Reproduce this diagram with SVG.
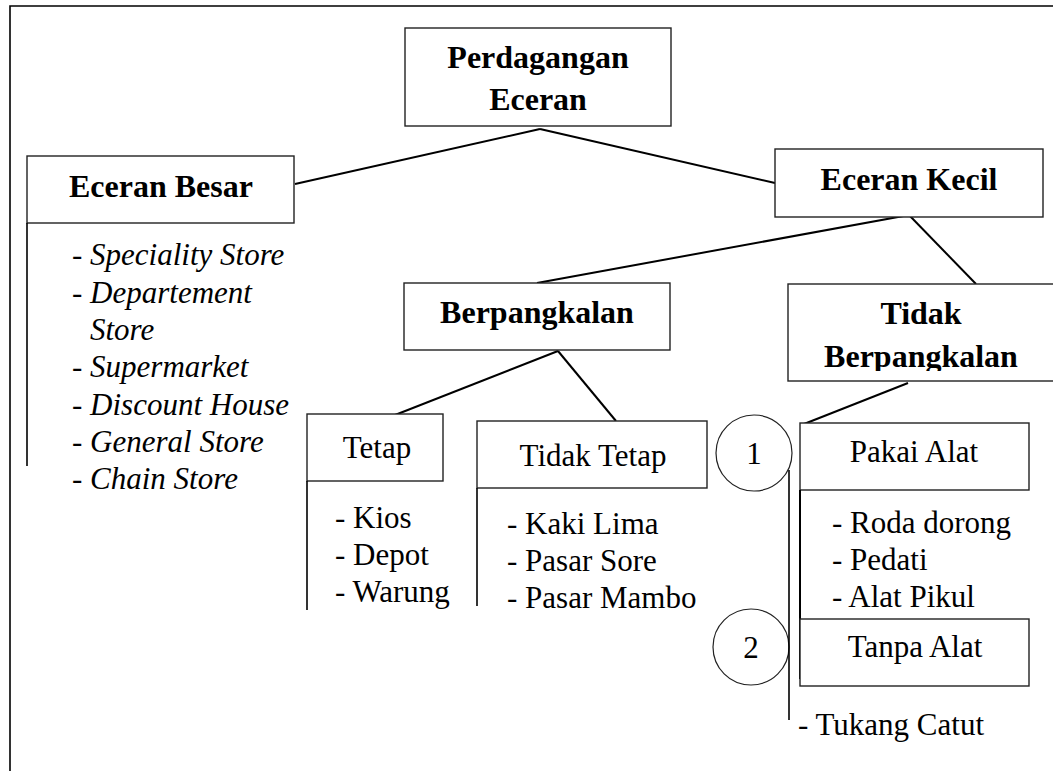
<svg xmlns="http://www.w3.org/2000/svg" width="1053" height="771" viewBox="0 0 1053 771">
  <style>
    .box { fill: #fff; stroke: #222; stroke-width: 1.4; }
    .edge { stroke: #000; stroke-width: 2; fill: none; }
    .rule { stroke: #000; stroke-width: 1.6; fill: none; }
    .ring { fill: #fff; stroke: #222; stroke-width: 1.2; }
    text { font-family: "Liberation Serif", "Times New Roman", serif; fill: #000; }
    .h { font-size: 32px; font-weight: bold; text-anchor: middle; }
    .n { font-size: 31px; }
    .c { text-anchor: middle; }
    .i { font-style: italic; }
  </style>
  <defs>
    <clipPath id="tbClip"><rect x="788" y="284" width="265" height="87"/></clipPath>
  </defs>
  <rect width="1053" height="771" fill="#fff"/>
  <!-- page frame -->
  <path class="rule" d="M10,780 V6 H1060"/>

  <g id="connectors">
    <line class="edge" x1="540" y1="129" x2="295" y2="184"/>
    <line class="edge" x1="540" y1="129" x2="775" y2="183"/>
    <line class="edge" x1="909" y1="215" x2="537" y2="283"/>
    <line class="edge" x1="909" y1="215" x2="976" y2="284"/>
    <line class="edge" x1="558" y1="351" x2="395" y2="415"/>
    <line class="edge" x1="558" y1="351" x2="616" y2="421"/>
    <line class="edge" x1="908" y1="383" x2="804" y2="424"/>
  </g>

  <g id="perdagangan-eceran">
    <rect class="box" x="405" y="28" width="266" height="98"/>
    <text class="h" x="538" y="68">Perdagangan</text>
    <text class="h" x="538" y="110">Eceran</text>
  </g>

  <g id="eceran-besar">
    <rect class="box" x="27" y="156" width="267" height="67"/>
    <text class="h" x="161" y="197">Eceran Besar</text>
    <line class="rule" x1="27" y1="223" x2="27" y2="466"/>
    <g class="n i">
      <text x="72" y="265">- Speciality Store</text>
      <text x="72" y="303">- Departement</text>
      <text x="90" y="340">Store</text>
      <text x="72" y="377">- Supermarket</text>
      <text x="72" y="415">- Discount House</text>
      <text x="72" y="452">- General Store</text>
      <text x="72" y="489">- Chain Store</text>
    </g>
  </g>

  <g id="eceran-kecil">
    <rect class="box" x="775" y="149" width="268" height="68"/>
    <text class="h" x="909" y="190">Eceran Kecil</text>
  </g>

  <g id="berpangkalan">
    <rect class="box" x="404" y="283" width="266" height="67"/>
    <text class="h" x="537" y="323">Berpangkalan</text>
  </g>

  <g id="tidak-berpangkalan">
    <rect class="box" x="788" y="284" width="280" height="97"/>
    <g clip-path="url(#tbClip)">
      <text class="h" x="921" y="324">Tidak</text>
      <text class="h" x="921" y="367">Berpangkalan</text>
    </g>
  </g>

  <g id="tetap">
    <rect class="box" x="307" y="414" width="136" height="67"/>
    <text class="n c" x="377" y="458">Tetap</text>
    <line class="rule" x1="307" y1="481" x2="307" y2="610"/>
    <g class="n">
      <text x="335" y="528">- Kios</text>
      <text x="335" y="565">- Depot</text>
      <text x="335" y="602">- Warung</text>
    </g>
  </g>

  <g id="tidak-tetap">
    <rect class="box" x="477" y="421" width="230" height="67"/>
    <text class="n c" x="593" y="466">Tidak Tetap</text>
    <line class="rule" x1="477" y1="488" x2="477" y2="606"/>
    <g class="n">
      <text x="507" y="534">- Kaki Lima</text>
      <text x="507" y="571">- Pasar Sore</text>
      <text x="507" y="608">- Pasar Mambo</text>
    </g>
  </g>

  <g id="mark-1">
    <circle class="ring" cx="754" cy="453" r="38"/>
    <text class="n c" x="754" y="464">1</text>
  </g>

  <g id="mark-2">
    <circle class="ring" cx="751" cy="647" r="38"/>
    <text class="n c" x="751" y="658">2</text>
  </g>

  <!-- divider beside the numbered marks -->
  <line class="rule" x1="789" y1="470" x2="789" y2="720"/>

  <g id="pakai-alat">
    <rect class="box" x="800" y="423" width="229" height="67"/>
    <text class="n c" x="914" y="462">Pakai Alat</text>
    <line class="edge" x1="800" y1="490" x2="800" y2="679"/>
    <g class="n">
      <text x="832" y="533">- Roda dorong</text>
      <text x="832" y="570">- Pedati</text>
      <text x="832" y="607">- Alat Pikul</text>
    </g>
  </g>

  <g id="tanpa-alat">
    <rect class="box" x="800" y="619" width="229" height="67"/>
    <text class="n c" x="915" y="657">Tanpa Alat</text>
    <text class="n" x="798" y="735">- Tukang Catut</text>
  </g>
</svg>
